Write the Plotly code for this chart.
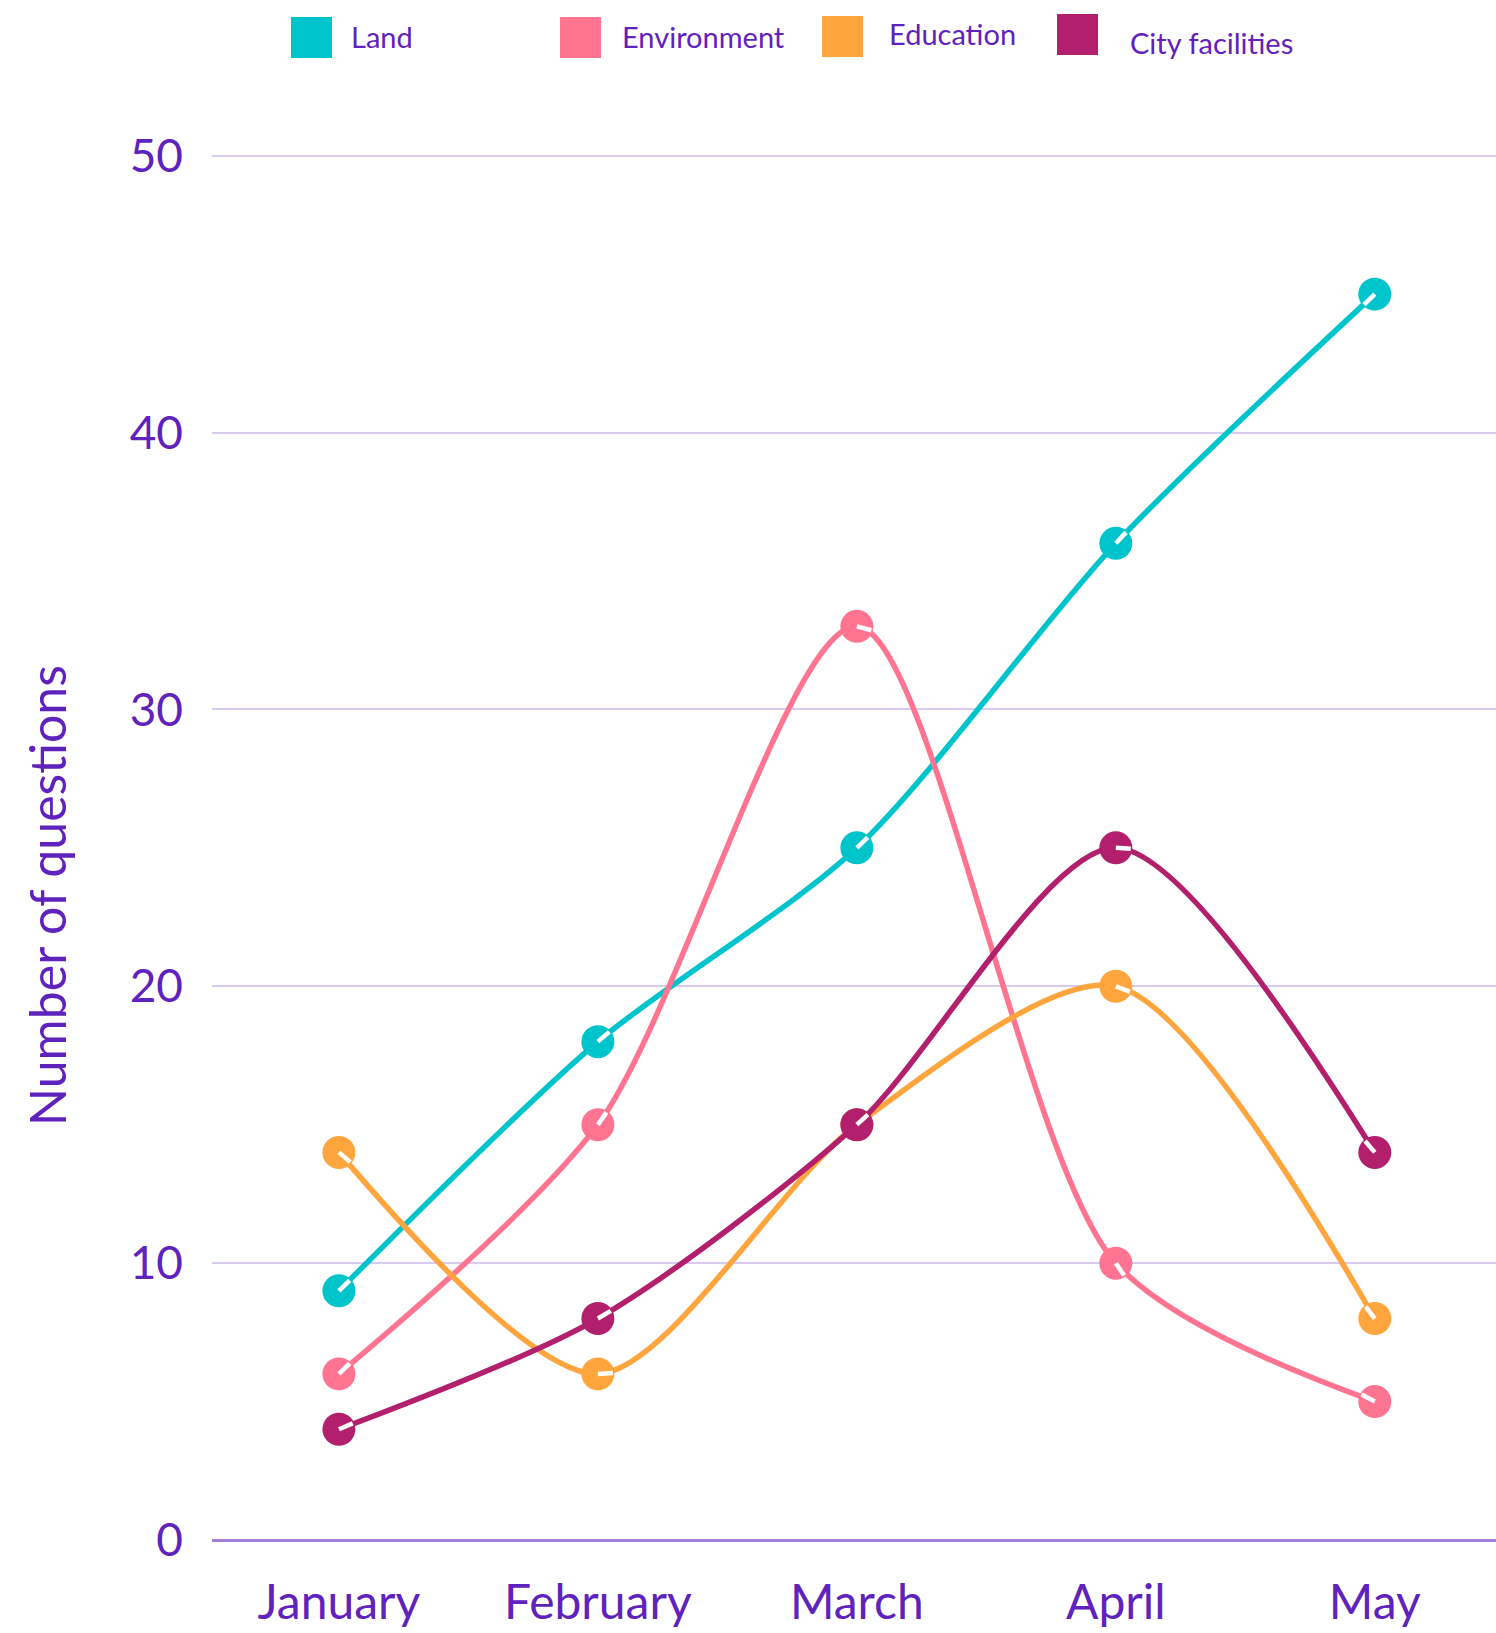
import math
import plotly.graph_objects as go

months = ["January", "February", "March", "April", "May"]
land = [9, 18, 25, 36, 45]
environment = [6, 15, 33, 10, 5]
education = [14, 6, 15, 20, 8]
city_facilities = [4, 8, 15, 25, 14]
y_ticks = [0, 10, 20, 30, 40, 50]

series = [
    ("Land", land, "#00c4cc"),
    ("Environment", environment, "#ff7591"),
    ("Education", education, "#ffa53d"),
    ("City facilities", city_facilities, "#b21f6c"),
]

TXT = "#5f22bd"
FONT = "Lato"
W, H = 1496, 1633
ML, MR, MT, MB = 212, 0, 150, 93
XR = [-0.49, 4.468]
YR = [0, 50.206]
PX_X = (W - ML - MR) / (XR[1] - XR[0])
PX_Y = (H - MT - MB) / (YR[1] - YR[0])

fig = go.Figure()
for name, vals, col in series:
    fig.add_trace(go.Scatter(
        x=list(range(len(months))), y=vals, name=name, mode="lines+markers",
        line=dict(color=col, width=5.5, shape="spline", smoothing=0.8),
        marker=dict(color=col, size=33),
        cliponaxis=False, showlegend=False,
    ))
    # small white dash inside each marker, pointing along the curve
    sx, sy = [], []
    n = len(vals)
    for i in range(n):
        if i == 0:
            dx, dy = 1, vals[1] - vals[0]
        elif i == n - 1:
            dx, dy = -1, vals[i - 1] - vals[i]
        else:
            dx, dy = 2, vals[i + 1] - vals[i - 1]
        px, py = dx * PX_X, dy * PX_Y
        L = math.hypot(px, py)
        seg = 15
        sx += [i, i + px / L * seg / PX_X, None]
        sy += [vals[i], vals[i] + py / L * seg / PX_Y, None]
    fig.add_trace(go.Scatter(
        x=sx, y=sy, mode="lines", line=dict(color="white", width=4.5),
        cliponaxis=False, showlegend=False, hoverinfo="skip",
    ))

# custom legend (large squares + labels)
legend_pos = [
    (291, 17, 349, 37),
    (560, 17, 620, 37),
    (822, 16, 887, 34),
    (1057, 14, 1128, 43),
]
PW, PH = W - ML - MR, H - MT - MB
for (name, vals, col), (sx0, sy0, tx, ty) in zip(series, legend_pos):
    s = 41
    fig.add_shape(type="rect", xref="paper", yref="paper",
                  x0=(sx0 - ML) / PW, x1=(sx0 + s - ML) / PW,
                  y0=1 + (MT - sy0) / PH, y1=1 + (MT - sy0 - s) / PH,
                  fillcolor=col, line=dict(width=0), layer="above")
    fig.add_annotation(text=name, xref="paper", yref="paper",
                       x=(tx - ML) / PW, y=1 + (MT - ty) / PH,
                       xanchor="left", yanchor="middle", showarrow=False,
                       font=dict(family=FONT, size=29, color=TXT))

# y-axis title
fig.add_annotation(text="Number of questions", xref="paper", yref="paper",
                   x=(47 - ML) / PW, y=1 + (MT - 896) / PH, textangle=-90,
                   xanchor="center", yanchor="middle", showarrow=False,
                   font=dict(family=FONT, size=50, color=TXT))

fig.update_layout(
    width=W, height=H,
    margin=dict(l=ML, r=MR, t=MT, b=MB, autoexpand=False),
    paper_bgcolor="white", plot_bgcolor="white",
    font=dict(family=FONT, color=TXT),
    showlegend=False,
)
fig.update_xaxes(
    range=XR, tickvals=list(range(len(months))), ticktext=months,
    showgrid=False, zeroline=False, showline=False, automargin=False,
    tickfont=dict(family=FONT, size=48, color=TXT), ticklabelstandoff=30,
)
fig.update_yaxes(
    range=YR, tickvals=y_ticks, showgrid=True, gridcolor="#d9cbf0", gridwidth=1.5,
    zeroline=True, zerolinecolor="#a27ddb", zerolinewidth=2.5, showline=False,
    automargin=False,
    tickfont=dict(family=FONT, size=46, color=TXT), ticklabelstandoff=28,
)

fig.write_html("out.html")
